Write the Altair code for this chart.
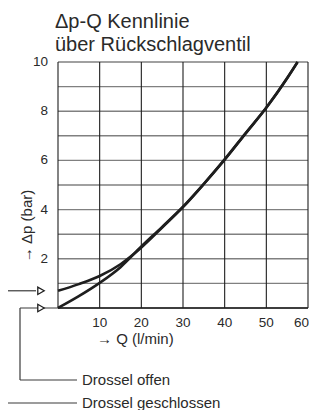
import altair as alt
import pandas as pd

# ---- data ----
q_open = [0, 5, 10, 15, 20, 25, 30, 35, 40, 45, 50, 55, 57.5]
p_open = [0, 0.48, 1.02, 1.66, 2.5, 3.3, 4.12, 5.05, 6.04, 7.1, 8.15, 9.35, 10]
q_closed = [0, 5, 10, 15, 20, 25, 30, 35, 40, 45, 50, 55, 57.5]
p_closed = [0.7, 0.97, 1.3, 1.78, 2.46, 3.27, 4.1, 5.04, 6.03, 7.09, 8.14, 9.34, 10]
series_names = ["Drossel offen", "Drossel geschlossen"]
title_lines = ["\u0394p-Q Kennlinie", "\u00fcber R\u00fcckschlagventil"]
x_title = "\u2192 Q (l/min)"
y_title = "\u2192 \u0394p (bar)"
x_ticks = [0, 10, 20, 30, 40, 50, 60]
y_ticks = list(range(0, 11))
x_labels = [10, 20, 30, 40, 50, 60]
y_labels = [2, 4, 6, 8, 10]

FONT = "Liberation Sans"
INK = "#1e1e1e"
TXT = "#2a2a2a"
GRID_H = "#808080"

df = pd.concat([
    pd.DataFrame({"Q": q_open, "p": p_open, "s": series_names[0]}),
    pd.DataFrame({"Q": q_closed, "p": p_closed, "s": series_names[1]}),
])
start_open = pd.DataFrame({"p": [p_open[0]]})
start_closed = pd.DataFrame({"p": [p_closed[0]]})

x0, x1 = x_ticks[0], x_ticks[-1]
y0, y1 = y_ticks[0], y_ticks[-1]
xs = alt.Scale(domain=[x0, x1], nice=False, zero=False)
ys = alt.Scale(domain=[y0, y1], nice=False, zero=False)

# grid segments built from the tick lists (two end points per line)
h_rows = []
for t in y_ticks:
    h_rows.append({"gx": x0, "gy": t, "seg": f"h{t}"})
    h_rows.append({"gx": x1, "gy": t, "seg": f"h{t}"})
v_rows = []
for t in x_ticks:
    v_rows.append({"gx": t, "gy": y0, "seg": f"v{t}"})
    v_rows.append({"gx": t, "gy": y1, "seg": f"v{t}"})
grid_h_df = pd.DataFrame(h_rows)
grid_v_df = pd.DataFrame(v_rows)


def X(field):
    return alt.X(field, scale=xs, axis=None)


def Y(field):
    return alt.Y(field, scale=ys, axis=None)


hgrid = alt.Chart(grid_h_df).mark_line(color=GRID_H, strokeWidth=1.4).encode(
    x=X("gx:Q"), y=Y("gy:Q"), detail="seg:N")
vgrid = alt.Chart(grid_v_df).mark_line(color=INK, strokeWidth=1.1).encode(
    x=X("gx:Q"), y=Y("gy:Q"), detail="seg:N")
xbase = alt.Chart(pd.DataFrame({"gx": [x0, x1], "gy": [y0, y0]})).mark_line(
    color=INK, strokeWidth=1.4).encode(x=X("gx:Q"), y=Y("gy:Q"))

# tick labels placed through the scales
xlab = alt.Chart(pd.DataFrame({"Q": x_labels[:-1]})).mark_text(
    font=FONT, fontSize=13.5, color=TXT, align="center", baseline="middle"
).encode(x=X("Q:Q"), y=alt.value(261), text="Q:Q")
xlab_last = alt.Chart(pd.DataFrame({"Q": x_labels[-1:]})).mark_text(
    font=FONT, fontSize=13.5, color=TXT, align="right", baseline="middle", dx=1
).encode(x=X("Q:Q"), y=alt.value(261), text="Q:Q")
ylab = alt.Chart(pd.DataFrame({"p": y_labels})).mark_text(
    font=FONT, fontSize=13.5, color=TXT, align="right", baseline="middle"
).encode(y=Y("p:Q"), x=alt.value(-10), text="p:Q")

lines = alt.Chart(df).mark_line(color=INK, strokeWidth=2.6, interpolate="monotone").encode(
    x=X("Q:Q"), y=Y("p:Q"), detail="s:N")


def txt(text, x, y, size, align="left", baseline="middle", angle=0):
    return alt.Chart(pd.DataFrame({"t": [text]})).mark_text(
        font=FONT, fontSize=size, color=TXT, align=align, baseline=baseline, angle=angle
    ).encode(x=alt.value(x), y=alt.value(y), text="t:N")


LC = "#3a3a3a"


def leader(start_df, bx, ex, ly):
    base = alt.Chart(start_df)
    h1 = base.mark_rule(color=LC, strokeWidth=1.2).encode(
        x=alt.value(bx), x2=alt.value(ex), y=Y("p:Q"))
    v = base.mark_rule(color=LC, strokeWidth=1.2).encode(
        x=alt.value(bx), y=Y("p:Q"), y2=alt.value(ly))
    h2 = base.mark_rule(color=LC, strokeWidth=1.2).encode(
        x=alt.value(bx), x2=alt.value(19), y=alt.value(ly))
    arrow = base.mark_point(shape="triangle-right", filled=True, fill="white",
                            stroke=INK, strokeWidth=1.3, size=55, opacity=1).encode(
        x=alt.value(-17), y=Y("p:Q"))
    return h1 + v + h2 + arrow


layers = [
    hgrid,
    vgrid,
    xbase,
    lines,
    xlab,
    xlab_last,
    ylab,
    leader(start_open, -38, 0, 318),
    leader(start_closed, -51, -22, 341),
    txt(series_names[0], 24, 318, 15),
    txt(series_names[1], 24, 341, 15),
    txt(title_lines[0], -3, -34, 20, baseline="alphabetic"),
    txt(title_lines[1], -3, -11, 20, baseline="alphabetic"),
    txt(x_title, 39, 277, 15),
    txt(y_title, -31, 164, 15, align="center", angle=270),
]

chart = alt.layer(*layers).properties(
    width=250, height=246,
    autosize=alt.AutoSizeParams(type="none"),
    padding={"left": 50, "top": 54, "right": 1, "bottom": 102},
    background="white",
).configure_view(stroke=None)

chart.save("out.html", embed_options={"renderer": "svg", "actions": False})
